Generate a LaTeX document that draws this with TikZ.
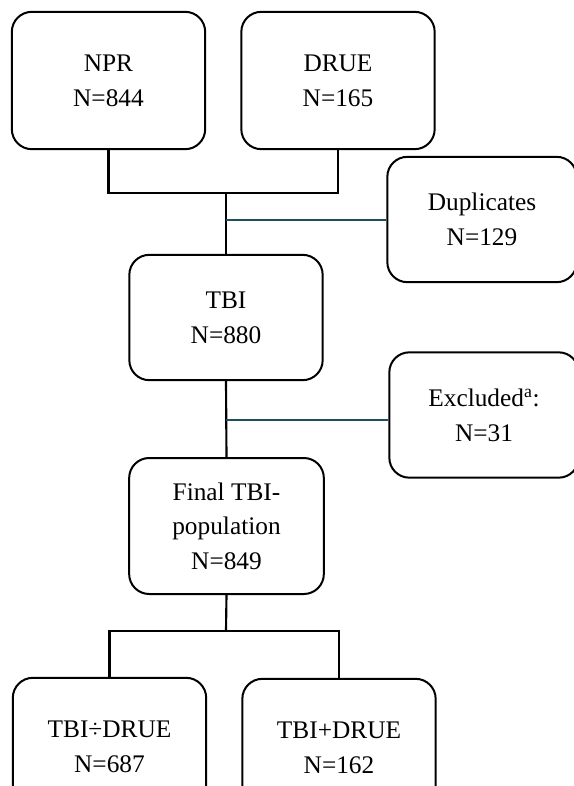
\documentclass[tikz,border=0pt]{standalone}
\usepackage{fontspec}
\setmainfont{Liberation Serif}
\usepackage{tikz}
\usetikzlibrary{positioning, calc}
\definecolor{ink}{RGB}{0,0,0}
\definecolor{slate}{RGB}{31,78,95}
\tikzset{
  box/.style     ={rectangle, rounded corners=15pt, draw=ink, line width=1.5pt, fill=white,
                   inner sep=2pt, align=center, font=\fontsize{19}{26}\selectfont},
  srcbox/.style  ={box, minimum width=145pt, minimum height=103pt},
  sidebox/.style ={box, minimum width=142pt, minimum height=94pt},
  midbox/.style  ={box, minimum width=145pt, minimum height=94pt},
  link/.style    ={line width=1.6pt, color=ink},
  sidelink/.style={line width=1.3pt, color=slate},
}

\begin{document}
\begin{tikzpicture}[x=0.75pt, y=-0.75pt]
\useasboundingbox (0,0) rectangle (574,786);
\node[srcbox] (npr) at (108.5,80.5) {NPR\\N=844};
\node[srcbox] (drue) at (338,80.5) {DRUE\\N=165};
\node[sidebox] (dup) at (482,219.5) {Duplicates\\N=129};
\node[midbox] (tbi) at (226,317.5) {TBI\\N=880};
\node[sidebox] (exc) at (484,415) {Excluded\textsuperscript{a}:\\N=31};
\node[srcbox, minimum width=146pt, minimum height=102pt] (fin) at (226.5,526) {Final TBI-\\population\\N=849};
\node[srcbox] (neg) at (109.5,746.5) {TBI÷DRUE\\N=687};
\node[srcbox] (pos) at (339,747.5) {TBI+DRUE\\N=162};
% junctions
\coordinate (merge) at (226,193);
\coordinate (j1) at (226,220);
\coordinate (j2) at (226,420);
\coordinate (split) at (226,631);
\draw[link] (npr.south) |- (merge) -| (drue.south);
\draw[link] (merge) -- (tbi.north);
\draw[sidelink] (j1) -- (j1 -| dup.west);
\draw[link] (tbi.south) -- (fin.north);
\draw[sidelink] (j2) -- (j2 -| exc.west);
\draw[link] (fin.south) -- (split);
\draw[link] (neg.north) |- (split) -| (pos.north);
\end{tikzpicture}
\end{document}
